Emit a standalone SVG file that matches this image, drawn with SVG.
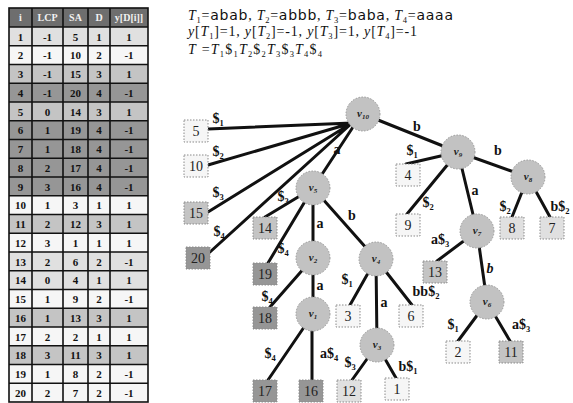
<svg xmlns="http://www.w3.org/2000/svg" width="573" height="403" viewBox="0 0 573 403">
  <style>
    .bg { fill: #ffffff; }
    .hd { fill: #6e6e6e; }
    .d1 { fill: #e0e0e0; }
    .d2 { fill: #f6f6f6; }
    .d3 { fill: #c4c4c4; }
    .d4 { fill: #969696; }
    .grid { stroke: #111; stroke-width: 1.6; fill: none; }
    .tc { font-family: "Liberation Serif", serif; font-weight: bold; font-size: 11px; fill: #111; text-anchor: middle; }
    .th { font-family: "Liberation Serif", serif; font-weight: bold; font-size: 10px; fill: #f2f2f2; text-anchor: middle; }
    .ft { font-family: "Liberation Serif", serif; font-size: 14px; fill: #111; }
    .it { font-style: italic; }
    .sf { font-family: "DejaVu Sans", sans-serif; font-size: 14px; }
    .sb { font-size: 8.5px; }
    .e { stroke: #111; stroke-width: 3; stroke-linecap: round; fill: none; }
    .n { fill: #c2c2c2; stroke: #9a9a9a; stroke-width: 1; stroke-dasharray: 1.5 1.5; }
    .lf { stroke: #8a8a8a; stroke-width: 1; stroke-dasharray: 1.5 1.5; }
    .lt { font-family: "Liberation Serif", serif; font-size: 14px; fill: #222; text-anchor: middle; }
    .vl { font-family: "Liberation Serif", serif; font-style: italic; font-weight: bold; font-size: 11px; fill: #222; text-anchor: middle; }
    .vs { font-size: 7px; }
    .el { font-family: "Liberation Serif", serif; font-weight: bold; font-size: 14px; fill: #111; text-anchor: middle; }
    .es { font-size: 8.5px; }
  </style>

  <rect class="bg" width="573" height="403"/>

  <!-- suffix table -->
  <g id="table">
    <rect class="hd" x="9" y="8" width="139" height="19"/>
    <text class="th" x="20.5" y="21">i</text>
    <text class="th" x="47.5" y="21">LCP</text>
    <text class="th" x="75.5" y="21">SA</text>
    <text class="th" x="99" y="21">D</text>
    <text class="th" x="129" y="21">y[D[i]]</text>

    <g transform="translate(0,27)"><rect class="d1" x="9" width="139" height="18.75"/><text class="tc" y="13.5"><tspan x="20.5">1</tspan><tspan x="47.5">-1</tspan><tspan x="75.5">5</tspan><tspan x="99">1</tspan><tspan x="129">1</tspan></text></g>
    <g transform="translate(0,45.75)"><rect class="d2" x="9" width="139" height="18.75"/><text class="tc" y="13.5"><tspan x="20.5">2</tspan><tspan x="47.5">-1</tspan><tspan x="75.5">10</tspan><tspan x="99">2</tspan><tspan x="129">-1</tspan></text></g>
    <g transform="translate(0,64.5)"><rect class="d3" x="9" width="139" height="18.75"/><text class="tc" y="13.5"><tspan x="20.5">3</tspan><tspan x="47.5">-1</tspan><tspan x="75.5">15</tspan><tspan x="99">3</tspan><tspan x="129">1</tspan></text></g>
    <g transform="translate(0,83.25)"><rect class="d4" x="9" width="139" height="18.75"/><text class="tc" y="13.5"><tspan x="20.5">4</tspan><tspan x="47.5">-1</tspan><tspan x="75.5">20</tspan><tspan x="99">4</tspan><tspan x="129">-1</tspan></text></g>
    <g transform="translate(0,102)"><rect class="d3" x="9" width="139" height="18.75"/><text class="tc" y="13.5"><tspan x="20.5">5</tspan><tspan x="47.5">0</tspan><tspan x="75.5">14</tspan><tspan x="99">3</tspan><tspan x="129">1</tspan></text></g>
    <g transform="translate(0,120.75)"><rect class="d4" x="9" width="139" height="18.75"/><text class="tc" y="13.5"><tspan x="20.5">6</tspan><tspan x="47.5">1</tspan><tspan x="75.5">19</tspan><tspan x="99">4</tspan><tspan x="129">-1</tspan></text></g>
    <g transform="translate(0,139.5)"><rect class="d4" x="9" width="139" height="18.75"/><text class="tc" y="13.5"><tspan x="20.5">7</tspan><tspan x="47.5">1</tspan><tspan x="75.5">18</tspan><tspan x="99">4</tspan><tspan x="129">-1</tspan></text></g>
    <g transform="translate(0,158.25)"><rect class="d4" x="9" width="139" height="18.75"/><text class="tc" y="13.5"><tspan x="20.5">8</tspan><tspan x="47.5">2</tspan><tspan x="75.5">17</tspan><tspan x="99">4</tspan><tspan x="129">-1</tspan></text></g>
    <g transform="translate(0,177)"><rect class="d4" x="9" width="139" height="18.75"/><text class="tc" y="13.5"><tspan x="20.5">9</tspan><tspan x="47.5">3</tspan><tspan x="75.5">16</tspan><tspan x="99">4</tspan><tspan x="129">-1</tspan></text></g>
    <g transform="translate(0,195.75)"><rect class="d2" x="9" width="139" height="18.75"/><text class="tc" y="13.5"><tspan x="20.5">10</tspan><tspan x="47.5">1</tspan><tspan x="75.5">3</tspan><tspan x="99">1</tspan><tspan x="129">1</tspan></text></g>
    <g transform="translate(0,214.5)"><rect class="d3" x="9" width="139" height="18.75"/><text class="tc" y="13.5"><tspan x="20.5">11</tspan><tspan x="47.5">2</tspan><tspan x="75.5">12</tspan><tspan x="99">3</tspan><tspan x="129">1</tspan></text></g>
    <g transform="translate(0,233.25)"><rect class="d2" x="9" width="139" height="18.75"/><text class="tc" y="13.5"><tspan x="20.5">12</tspan><tspan x="47.5">3</tspan><tspan x="75.5">1</tspan><tspan x="99">1</tspan><tspan x="129">1</tspan></text></g>
    <g transform="translate(0,252)"><rect class="d1" x="9" width="139" height="18.75"/><text class="tc" y="13.5"><tspan x="20.5">13</tspan><tspan x="47.5">2</tspan><tspan x="75.5">6</tspan><tspan x="99">2</tspan><tspan x="129">-1</tspan></text></g>
    <g transform="translate(0,270.75)"><rect class="d1" x="9" width="139" height="18.75"/><text class="tc" y="13.5"><tspan x="20.5">14</tspan><tspan x="47.5">0</tspan><tspan x="75.5">4</tspan><tspan x="99">1</tspan><tspan x="129">1</tspan></text></g>
    <g transform="translate(0,289.5)"><rect class="d2" x="9" width="139" height="18.75"/><text class="tc" y="13.5"><tspan x="20.5">15</tspan><tspan x="47.5">1</tspan><tspan x="75.5">9</tspan><tspan x="99">2</tspan><tspan x="129">-1</tspan></text></g>
    <g transform="translate(0,308.25)"><rect class="d3" x="9" width="139" height="18.75"/><text class="tc" y="13.5"><tspan x="20.5">16</tspan><tspan x="47.5">1</tspan><tspan x="75.5">13</tspan><tspan x="99">3</tspan><tspan x="129">1</tspan></text></g>
    <g transform="translate(0,327)"><rect class="d2" x="9" width="139" height="18.75"/><text class="tc" y="13.5"><tspan x="20.5">17</tspan><tspan x="47.5">2</tspan><tspan x="75.5">2</tspan><tspan x="99">1</tspan><tspan x="129">1</tspan></text></g>
    <g transform="translate(0,345.75)"><rect class="d3" x="9" width="139" height="18.75"/><text class="tc" y="13.5"><tspan x="20.5">18</tspan><tspan x="47.5">3</tspan><tspan x="75.5">11</tspan><tspan x="99">3</tspan><tspan x="129">1</tspan></text></g>
    <g transform="translate(0,364.5)"><rect class="d2" x="9" width="139" height="18.75"/><text class="tc" y="13.5"><tspan x="20.5">19</tspan><tspan x="47.5">1</tspan><tspan x="75.5">8</tspan><tspan x="99">2</tspan><tspan x="129">-1</tspan></text></g>
    <g transform="translate(0,383.25)"><rect class="d2" x="9" width="139" height="18.75"/><text class="tc" y="13.5"><tspan x="20.5">20</tspan><tspan x="47.5">2</tspan><tspan x="75.5">7</tspan><tspan x="99">2</tspan><tspan x="129">-1</tspan></text></g>

    <!-- grid lines -->
    <rect class="grid" x="9" y="8" width="139" height="394"/>
    <path class="grid" d="M32 8V402M63 8V402M88 8V402M110 8V402
      M9 27H148M9 45.75H148M9 64.5H148M9 83.25H148M9 102H148M9 120.75H148M9 139.5H148
      M9 158.25H148M9 177H148M9 195.75H148M9 214.5H148M9 233.25H148M9 252H148M9 270.75H148
      M9 289.5H148M9 308.25H148M9 327H148M9 345.75H148M9 364.5H148M9 383.25H148"/>
  </g>

  <!-- definitions of the strings -->
  <g id="formulas">
    <text class="ft" x="188" y="20" textLength="265" lengthAdjust="spacing"><tspan class="it">T</tspan><tspan class="sb" dy="2.5">1</tspan><tspan dy="-2.5">=</tspan><tspan class="sf">abab</tspan>, <tspan class="it">T</tspan><tspan class="sb" dy="2.5">2</tspan><tspan dy="-2.5">=</tspan><tspan class="sf">abbb</tspan>, <tspan class="it">T</tspan><tspan class="sb" dy="2.5">3</tspan><tspan dy="-2.5">=</tspan><tspan class="sf">baba</tspan>, <tspan class="it">T</tspan><tspan class="sb" dy="2.5">4</tspan><tspan dy="-2.5">=</tspan><tspan class="sf">aaaa</tspan></text>
    <text class="ft" x="188" y="36" textLength="229" lengthAdjust="spacing"><tspan class="it">y</tspan>[<tspan class="it">T</tspan><tspan class="sb" dy="2.5">1</tspan><tspan dy="-2.5">]=1, </tspan><tspan class="it">y</tspan>[<tspan class="it">T</tspan><tspan class="sb" dy="2.5">2</tspan><tspan dy="-2.5">]=-1, </tspan><tspan class="it">y</tspan>[<tspan class="it">T</tspan><tspan class="sb" dy="2.5">3</tspan><tspan dy="-2.5">]=1, </tspan><tspan class="it">y</tspan>[<tspan class="it">T</tspan><tspan class="sb" dy="2.5">4</tspan><tspan dy="-2.5">]=-1</tspan></text>
    <text class="ft" x="188" y="54" textLength="134" lengthAdjust="spacing"><tspan class="it">T</tspan> =<tspan class="it">T</tspan><tspan class="sb" dy="2.5">1</tspan><tspan dy="-2.5">$</tspan><tspan class="sb" dy="2.5">1</tspan><tspan class="it" dy="-2.5">T</tspan><tspan class="sb" dy="2.5">2</tspan><tspan dy="-2.5">$</tspan><tspan class="sb" dy="2.5">2</tspan><tspan class="it" dy="-2.5">T</tspan><tspan class="sb" dy="2.5">3</tspan><tspan dy="-2.5">$</tspan><tspan class="sb" dy="2.5">3</tspan><tspan class="it" dy="-2.5">T</tspan><tspan class="sb" dy="2.5">4</tspan><tspan dy="-2.5">$</tspan><tspan class="sb" dy="2.5">4</tspan></text>
  </g>

  <!-- tree edges -->
  <g id="edges">
    <path class="e" d="M208 129L352 123M208 165L352 123M208 212L352 123M210 252L352 123"/>
    <path class="e" d="M355 124L313 188M363 114L458 152"/>
    <path class="e" d="M265 217L313 188M268 263L313 188M313 188V258M313 188L376 259"/>
    <path class="e" d="M270 307L313 258M313 258V314M268 380L313 314M312 314V380"/>
    <path class="e" d="M350 305L376 259M376 259L377 345M376 259L412 305M352 380L377 345M377 345L396 378"/>
    <path class="e" d="M406 164L458 152M407 214L458 152M458 152L477 231M458 152L528 177"/>
    <path class="e" d="M512 217L528 177M550 217L528 177"/>
    <path class="e" d="M437 261L477 231M477 231L487 302M458 341L487 302M510 341L487 302"/>
  </g>

  <!-- edge labels -->
  <g id="edge-labels">
    <text class="el" x="218" y="123">$<tspan class="es" dy="3">1</tspan></text>
    <text class="el" x="218" y="156">$<tspan class="es" dy="3">2</tspan></text>
    <text class="el" x="218" y="197">$<tspan class="es" dy="3">3</tspan></text>
    <text class="el" x="219" y="236">$<tspan class="es" dy="3">4</tspan></text>
    <text class="el" x="337" y="154">a</text>
    <text class="el" x="417" y="131">b</text>
    <text class="el" x="283" y="201">$<tspan class="es" dy="3">3</tspan></text>
    <text class="el" x="283" y="253">$<tspan class="es" dy="3">4</tspan></text>
    <text class="el" x="320" y="228">a</text>
    <text class="el" x="352" y="220">b</text>
    <text class="el" x="267" y="301">$<tspan class="es" dy="3">4</tspan></text>
    <text class="el" x="320" y="290">a</text>
    <text class="el" x="270" y="358">$<tspan class="es" dy="3">4</tspan></text>
    <text class="el" x="329" y="358">a$<tspan class="es" dy="3">4</tspan></text>
    <text class="el" x="347" y="284">$<tspan class="es" dy="3">1</tspan></text>
    <text class="el" x="384" y="307">a</text>
    <text class="el" x="426" y="296">bb$<tspan class="es" dy="3">2</tspan></text>
    <text class="el" x="350" y="367">$<tspan class="es" dy="3">3</tspan></text>
    <text class="el" x="408" y="371">b$<tspan class="es" dy="3">1</tspan></text>
    <text class="el" x="412" y="155">$<tspan class="es" dy="3">1</tspan></text>
    <text class="el" x="428" y="207">$<tspan class="es" dy="3">2</tspan></text>
    <text class="el" x="475" y="195">a</text>
    <text class="el" x="498" y="155">b</text>
    <text class="el" x="505" y="211">$<tspan class="es" dy="3">2</tspan></text>
    <text class="el" x="560" y="211">b$<tspan class="es" dy="3">2</tspan></text>
    <text class="el" x="440" y="244">a$<tspan class="es" dy="3">3</tspan></text>
    <text class="el it" x="490" y="273">b</text>
    <text class="el" x="453" y="329">$<tspan class="es" dy="3">1</tspan></text>
    <text class="el" x="521" y="329">a$<tspan class="es" dy="3">3</tspan></text>
  </g>

  <!-- internal nodes -->
  <g id="v10"><circle class="n" cx="363" cy="114" r="17"/><text class="vl" x="363" y="117">v<tspan class="vs" dy="2">10</tspan></text></g>
  <g id="v9"><circle class="n" cx="458" cy="152" r="17"/><text class="vl" x="458" y="155">v<tspan class="vs" dy="2">9</tspan></text></g>
  <g id="v8"><circle class="n" cx="528" cy="177" r="17"/><text class="vl" x="528" y="180">v<tspan class="vs" dy="2">8</tspan></text></g>
  <g id="v7"><circle class="n" cx="477" cy="231" r="17"/><text class="vl" x="477" y="234">v<tspan class="vs" dy="2">7</tspan></text></g>
  <g id="v6"><circle class="n" cx="487" cy="302" r="17"/><text class="vl" x="487" y="305">v<tspan class="vs" dy="2">6</tspan></text></g>
  <g id="v5"><circle class="n" cx="313" cy="188" r="17"/><text class="vl" x="313" y="191">v<tspan class="vs" dy="2">5</tspan></text></g>
  <g id="v4"><circle class="n" cx="376" cy="259" r="17"/><text class="vl" x="376" y="262">v<tspan class="vs" dy="2">4</tspan></text></g>
  <g id="v3"><circle class="n" cx="377" cy="345" r="17"/><text class="vl" x="377" y="348">v<tspan class="vs" dy="2">3</tspan></text></g>
  <g id="v2"><circle class="n" cx="313" cy="258" r="17"/><text class="vl" x="313" y="261">v<tspan class="vs" dy="2">2</tspan></text></g>
  <g id="v1"><circle class="n" cx="313" cy="314" r="17"/><text class="vl" x="313" y="317">v<tspan class="vs" dy="2">1</tspan></text></g>

  <!-- leaves -->
  <g id="leaf-5"><rect class="lf d2" x="184" y="120" width="24" height="22"/><text class="lt" x="196" y="136">5</text></g>
  <g id="leaf-10"><rect class="lf d2" x="184" y="155" width="24" height="22"/><text class="lt" x="196" y="171">10</text></g>
  <g id="leaf-15"><rect class="lf d3" x="184" y="202" width="24" height="22"/><text class="lt" x="196" y="218">15</text></g>
  <g id="leaf-20"><rect class="lf d4" x="186" y="247" width="24" height="22"/><text class="lt" x="198" y="263">20</text></g>
  <g id="leaf-14"><rect class="lf d3" x="253" y="217" width="24" height="22"/><text class="lt" x="265" y="233">14</text></g>
  <g id="leaf-19"><rect class="lf d4" x="253" y="263" width="24" height="22"/><text class="lt" x="265" y="279">19</text></g>
  <g id="leaf-18"><rect class="lf d4" x="253" y="307" width="24" height="22"/><text class="lt" x="265" y="323">18</text></g>
  <g id="leaf-17"><rect class="lf d4" x="253" y="380" width="24" height="22"/><text class="lt" x="265" y="396">17</text></g>
  <g id="leaf-16"><rect class="lf d4" x="299" y="380" width="24" height="22"/><text class="lt" x="311" y="396">16</text></g>
  <g id="leaf-3"><rect class="lf d2" x="336" y="305" width="24" height="22"/><text class="lt" x="348" y="321">3</text></g>
  <g id="leaf-12"><rect class="lf d1" x="337" y="380" width="24" height="22"/><text class="lt" x="349" y="396">12</text></g>
  <g id="leaf-1"><rect class="lf d2" x="385" y="378" width="24" height="22"/><text class="lt" x="397" y="394">1</text></g>
  <g id="leaf-6"><rect class="lf d2" x="399" y="305" width="24" height="22"/><text class="lt" x="411" y="321">6</text></g>
  <g id="leaf-4"><rect class="lf d2" x="396" y="164" width="24" height="22"/><text class="lt" x="408" y="180">4</text></g>
  <g id="leaf-9"><rect class="lf d2" x="396" y="214" width="24" height="22"/><text class="lt" x="408" y="230">9</text></g>
  <g id="leaf-8"><rect class="lf d1" x="500" y="217" width="24" height="22"/><text class="lt" x="512" y="233">8</text></g>
  <g id="leaf-7"><rect class="lf d1" x="540" y="217" width="24" height="22"/><text class="lt" x="552" y="233">7</text></g>
  <g id="leaf-13"><rect class="lf d3" x="423" y="261" width="24" height="22"/><text class="lt" x="435" y="277">13</text></g>
  <g id="leaf-2"><rect class="lf d2" x="446" y="341" width="24" height="22"/><text class="lt" x="458" y="357">2</text></g>
  <g id="leaf-11"><rect class="lf d3" x="499" y="341" width="24" height="22"/><text class="lt" x="511" y="357">11</text></g>
</svg>
